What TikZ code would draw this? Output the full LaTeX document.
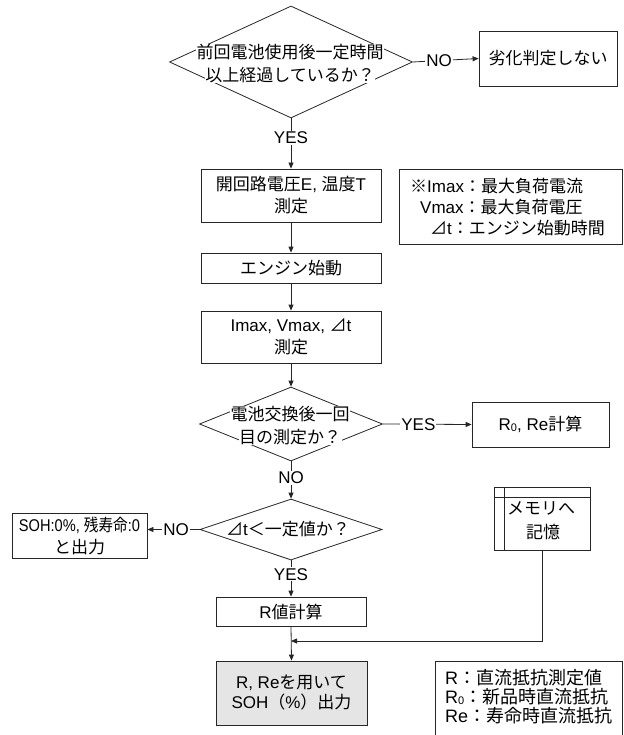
\documentclass[tikz,border=0pt]{standalone}
\usepackage{fontspec}
\setmainfont{Noto Sans CJK JP}
\newfontfamily\latfont{Liberation Sans}
\newcommand\latn[1]{{\latfont #1}}
\newcommand\lowsub[1]{\raisebox{-0.5pt}{\latfont\fontsize{11}{11}\selectfont #1}}
\usetikzlibrary{arrows.meta,shapes.geometric}
\tikzset{
  ln/.style={draw=black!85, line width=0.8pt},
  proc/.style={ln, rectangle, align=center, inner sep=0pt, font=\fontsize{17}{22}\selectfont},
  dec/.style={ln, diamond, inner sep=0pt},
  dtext/.style={fill=white, inner sep=0.5pt, font=\fontsize{17}{22}\selectfont},
  flow/.style={ln, -{Triangle[length=6pt,width=5pt]}},
  lab/.style={fill=white, inner sep=1pt, font=\latfont\fontsize{17}{20}\selectfont},
  plain/.style={inner sep=0pt, anchor=west, font=\fontsize{17}{20}\selectfont},
  leg/.style={inner sep=0pt, anchor=west, font=\fontsize{18}{19}\selectfont},
}
\begin{document}
\begin{tikzpicture}[x=1pt,y=-1pt]
\useasboundingbox (0,0) rectangle (623,735);
% decision 1
\node[dec, minimum width=243pt, minimum height=112pt] (d1) at (291,62) {};
\node[dtext] (d1a) at (290,52) {前回電池使用後一定時間};
\node[dtext] (d1b) at (290,75) {以上経過しているか？};
\node[proc, minimum width=138pt, minimum height=55pt] (bnone) at (548,58.5) {劣化判定しない};
\draw[flow] (d1.east) -- node[lab, pos=0.4] (lno1) {NO} (bnone.west);
% process boxes
\node[proc, minimum width=180pt, minimum height=53pt] (b1) at (291,195.5) {開回路電圧\latn{E, }温度\latn{T}\\測定};
\draw[flow] (d1.south) -- node[lab, pos=0.39] (lyes1) {YES} (b1.north);
\node[proc, minimum width=180pt, minimum height=30pt] (b2) at (291,268) {エンジン始動};
\node[proc, minimum width=180pt, minimum height=52pt] (b3) at (291,337) {\latn{Imax, Vmax, }⊿\latn{t}\\測定};
\draw[flow] (b1.south) -- (b2.north);
\draw[flow] (b2.south) -- (b3.north);
% note
\draw[ln] (399,169) rectangle (622.5,244);
\node[plain] (n1) at (410,186) {※\latn{Imax}：最大負荷電流};
\node[plain] (n2) at (420,207) {\latn{Vmax}：最大負荷電圧};
\node[plain] (n3) at (430,228) {⊿\latn{t}：エンジン始動時間};
% decision 2
\node[dec, minimum width=183pt, minimum height=74pt] (d2) at (291,424) {};
\node[dtext] (d2a) at (290,414) {電池交換後一回};
\node[dtext] (d2b) at (290,437) {目の測定か？};
\draw[flow] (b3.south) -- (d2.north);
\node[proc, minimum width=137pt, minimum height=45pt] (r0) at (540.5,424.5) {\latn{R}\lowsub{0}\latn{, Re}計算};
\draw[flow] (d2.east) -- node[lab, pos=0.4] (lyes2) {YES} (r0.west);
% decision 3
\node[dec, minimum width=182pt, minimum height=61pt] (d3) at (291,529.5) {};
\node[dtext] (d3a) at (288,529) {⊿\latn{t}＜一定値か？};
\draw[flow] (d2.south) -- node[lab, pos=0.45] (lno2) {NO} (d3.north);
\node[proc, minimum width=135pt, minimum height=45pt] (soh) at (79.5,535.5) {\scalebox{0.86}[1]{\latn{SOH:0\%, }残寿命\latn{:0}}\\と出力};
\draw[flow] (d3.west) -- node[lab, pos=0.45] (lno3) {NO} (d3.west -| soh.east);
\node[proc, minimum width=150pt, minimum height=29pt] (rv) at (291,611.5) {\latn{R}値計算};
\draw[flow] (d3.south) -- node[lab, pos=0.38] (lyes3) {YES} (rv.north);
\node[proc, fill=black!10, minimum width=151pt, minimum height=64pt, font=\fontsize{17}{20}\selectfont] (fin) at (291.5,693) {\latn{R, Re}を用いて\\\latn{SOH}（\latn{\%}）出力};
\draw[flow] (rv.south) -- (fin.north);
% memory
\node[ln, rectangle, minimum width=96pt, minimum height=63pt, inner sep=0pt] (mem) at (542,518.5) {};
\draw[ln] ([xshift=11pt]mem.north west) -- ([xshift=11pt]mem.south west);
\draw[ln] ([yshift=-11pt]mem.north west) -- ([yshift=-11pt]mem.north east);
\node[plain] (mema) at (507,508) {メモリへ};
\node[inner sep=0pt, font=\fontsize{17}{20}\selectfont] (memb) at (543,532) {記憶};
\coordinate (mj) at (291,641);
\draw[flow] (mem.south) |- (mj);
% legend
\draw[ln] (435,740) -- (435,661) -- (622.5,661) -- (622.5,740);
\node[leg] (l1) at (445,678) {\latn{R}：直流抵抗測定値};
\node[leg] (l2) at (445,697) {\latn{R}\lowsub{0}：新品時直流抵抗};
\node[leg] (l3) at (445,716) {\latn{Re}：寿命時直流抵抗};
\end{tikzpicture}
\end{document}
